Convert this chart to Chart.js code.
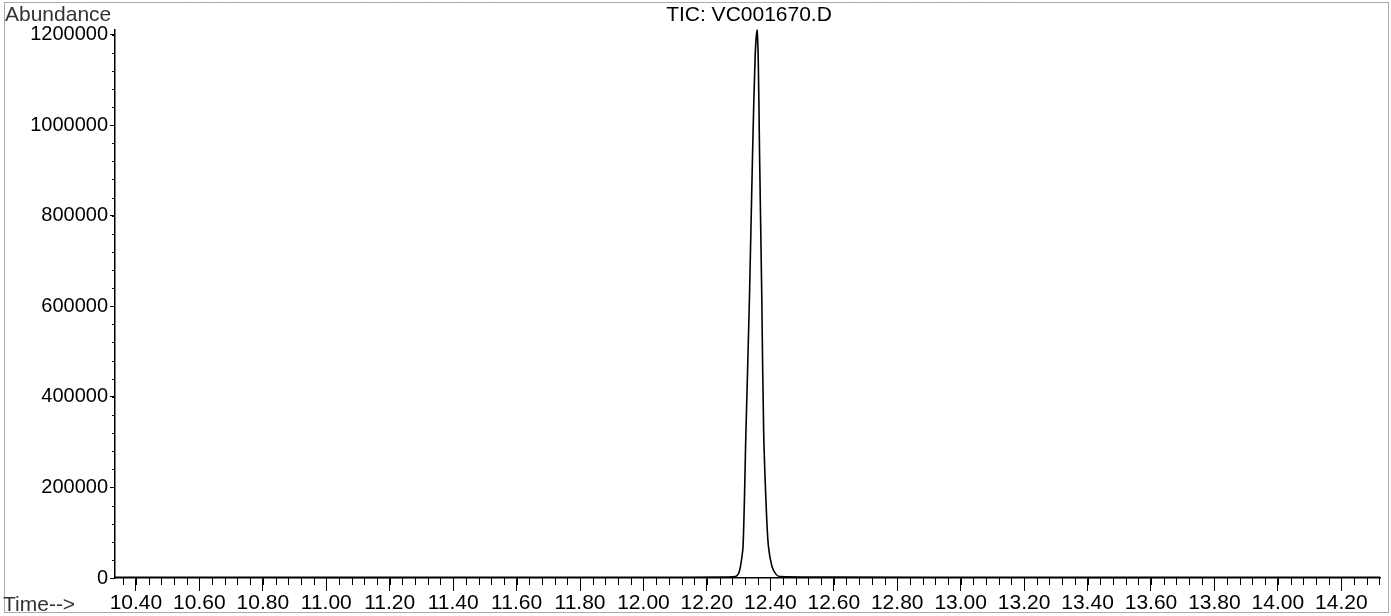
<!DOCTYPE html>
<html>
<head>
<meta charset="utf-8">
<script src="https://cdn.jsdelivr.net/npm/chart.js@4/dist/chart.umd.min.js"></script>
<style>
  html, body { margin: 0; padding: 0; background: #fff; }
  #wrap { width: 1391px; height: 616px; position: relative; }
</style>
</head>
<body>
<div id="wrap"><canvas id="tic" width="1391" height="616"></canvas></div>
<script>
// TIC trace
const times = [10.334, 10.80, 11.40, 12.00, 12.25, 12.290, 12.300, 12.306, 12.314, 12.323, 12.334, 12.344, 12.352, 12.358, 12.362, 12.366, 12.373, 12.379, 12.388, 12.394, 12.405, 12.418, 12.431, 12.60, 13.20, 13.80, 14.322];
const abundance = [1500, 1500, 1500, 1800, 2000, 3000, 10000, 26000, 70000, 321000, 614000, 938000, 1150000, 1210000, 1140000, 938000, 621000, 321000, 140000, 70000, 26000, 8000, 3000, 2000, 1500, 1500, 1500];

const xMajorTicks = [10.40, 10.60, 10.80, 11.00, 11.20, 11.40, 11.60, 11.80, 12.00, 12.20, 12.40, 12.60, 12.80, 13.00, 13.20, 13.40, 13.60, 13.80, 14.00, 14.20];
const yMajorTicks = [0, 200000, 400000, 600000, 800000, 1000000, 1200000];

const FONT = 'Liberation Sans, Arial, sans-serif';

// short minor ticks and the page text, drawn on top of the chart
const decor = {
    id: 'decor',
    afterDraw(chart) {
        const c = chart.ctx;
        const xs = chart.scales.x, ys = chart.scales.y;
        const area = chart.chartArea;
        c.save();
        c.strokeStyle = '#000';
        c.lineWidth = 1;
        c.beginPath();
        for (let i = 0; i <= 100; i++) {
            const v = Math.round((10.36 + i * 0.04) * 100) / 100;
            if (v > 14.33) break;
            const px = Math.round(xs.getPixelForValue(v)) + 0.5;
            c.moveTo(px, area.bottom);
            c.lineTo(px, area.bottom + 7);
        }
        for (let v = 0; v <= 1200000; v += 40000) {
            const py = Math.round(ys.getPixelForValue(v)) + 0.5;
            c.moveTo(area.left, py);
            c.lineTo(area.left - 3, py);
        }
        c.stroke();

        c.fillStyle = '#000';
        c.font = '21px ' + FONT;
        c.textAlign = 'center';
        c.textBaseline = 'top';
        c.fillText('TIC: VC001670.D', 749, 5);

        c.fillStyle = '#333';
        c.font = '21px ' + FONT;
        c.textAlign = 'left';
        c.fillText('Abundance', 5, 5);
        c.textBaseline = 'alphabetic';
        c.fillText('Time-->', 3, 611);

        // dotted frame round the page
        c.strokeStyle = '#555';
        c.setLineDash([1, 1]);
        c.strokeRect(4.5, 2.5, 1384, 610);
        c.restore();
    }
};

new Chart(document.getElementById('tic'), {
    type: 'line',
    data: {
        datasets: [{
            data: times.map((t, i) => ({ x: t, y: abundance[i] })),
            borderColor: '#000',
            borderWidth: 1.6,
            pointRadius: 0,
            tension: 0.3,
            fill: false,
            clip: false
        }]
    },
    options: {
        responsive: false,
        animation: false,
        layout: { padding: { left: 0, right: 11, top: 30, bottom: 0 } },
        plugins: { legend: { display: false }, tooltip: { enabled: false } },
        scales: {
            x: {
                type: 'linear',
                min: 10.334,
                max: 14.322,
                afterBuildTicks: (s) => { s.ticks = xMajorTicks.map(v => ({ value: v })); },
                afterFit: (s) => { s.height = 38; },
                grid: { drawOnChartArea: false, drawTicks: true, tickLength: 13, color: '#000', tickWidth: 1 },
                border: { display: true, color: '#000', width: 1.5 },
                ticks: {
                    color: '#000',
                    padding: 0,
                    maxRotation: 0,
                    autoSkip: false,
                    font: { family: FONT, size: 21 },
                    callback: (v) => Number(v).toFixed(2)
                }
            },
            y: {
                min: 0,
                max: 1210000,
                afterBuildTicks: (s) => { s.ticks = yMajorTicks.map(v => ({ value: v })); },
                afterFit: (s) => { s.width = 115; },
                grid: { drawOnChartArea: false, drawTicks: true, tickLength: 5, color: '#000', tickWidth: 1 },
                border: { display: true, color: '#000', width: 1.5 },
                ticks: {
                    color: '#000',
                    padding: 2,
                    autoSkip: false,
                    font: { family: FONT, size: 20 },
                    callback: (v) => String(v)
                }
            }
        }
    },
    plugins: [decor]
});
</script>
</body>
</html>
